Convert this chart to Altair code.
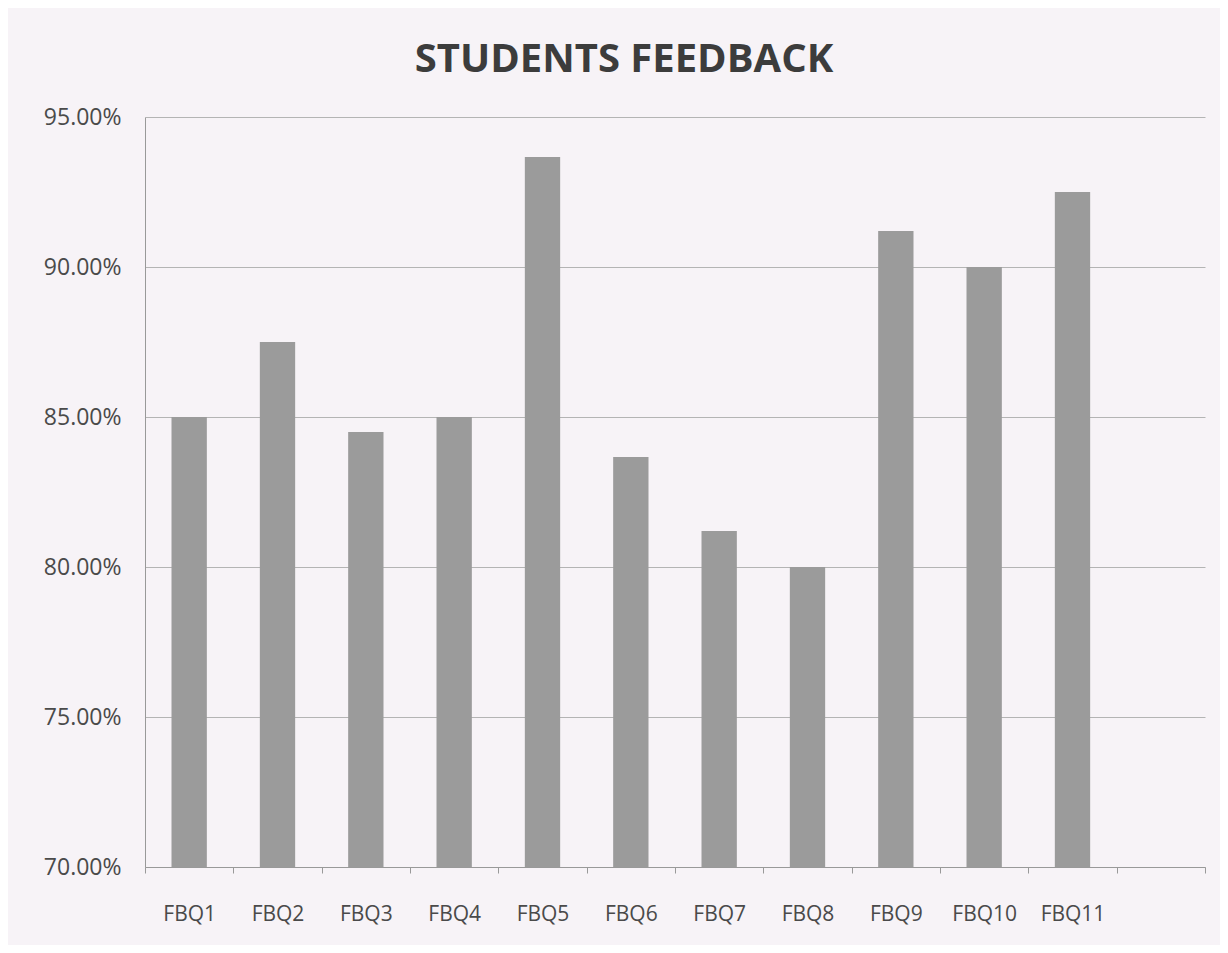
import altair as alt
import pandas as pd

categories = ["FBQ1", "FBQ2", "FBQ3", "FBQ4", "FBQ5", "FBQ6", "FBQ7", "FBQ8", "FBQ9", "FBQ10", "FBQ11"]
values = [0.850, 0.875, 0.845, 0.850, 0.9367, 0.8367, 0.812, 0.800, 0.912, 0.900, 0.925]
domain_x = categories + [" "]
y_ticks = [0.70, 0.75, 0.80, 0.85, 0.90, 0.95]
y_min = 0.70

df = pd.DataFrame({"q": categories, "v": values})

font = "Open Sans"
text_col = "#4a4a4a"

chart = (
    alt.Chart(df)
    .mark_bar(color="#9b9b9b", width=alt.RelativeBandSize(0.4))
    .encode(
        x=alt.X(
            "q:N",
            scale=alt.Scale(domain=domain_x, paddingInner=0, paddingOuter=0),
            sort=domain_x,
            axis=alt.Axis(
                title=None,
                labelAngle=0,
                labelFont=font,
                labelFontSize=21,
                labelColor=text_col,
                labelPadding=30,
                tickBand="extent",
                tickSize=6,
                tickColor="#999999",
                domainColor="#999999",
                grid=False,
            ),
        ),
        y=alt.Y(
            "v:Q",
            scale=alt.Scale(domain=[0.70, 0.95], zero=False, nice=False),
            axis=alt.Axis(
                title=None,
                values=y_ticks,
                format=".2%",
                labelFont=font,
                labelFontSize=23,
                labelColor=text_col,
                labelPadding=24,
                ticks=False,
                domainColor="#999999",
                gridColor="#b4b4b4",
                gridWidth=1,
            ),
        ),
        y2=alt.datum(y_min),
    )
    .properties(
        width=1060,
        height=750,
        title=alt.TitleParams(
            "STUDENTS FEEDBACK",
            font=font,
            fontSize=40,
            fontWeight="bold",
            color="#3c3c3c",
            anchor="middle",
            dx=-51,
            offset=26,
        ),
        autosize=alt.AutoSizeParams(type="none"),
        padding={"left": 137, "top": 109, "right": 15, "bottom": 78},
        background="#f7f3f7",
    )
    .configure_view(stroke=None)
)

chart.save("out.html", embed_options={"renderer": "svg", "actions": False})
